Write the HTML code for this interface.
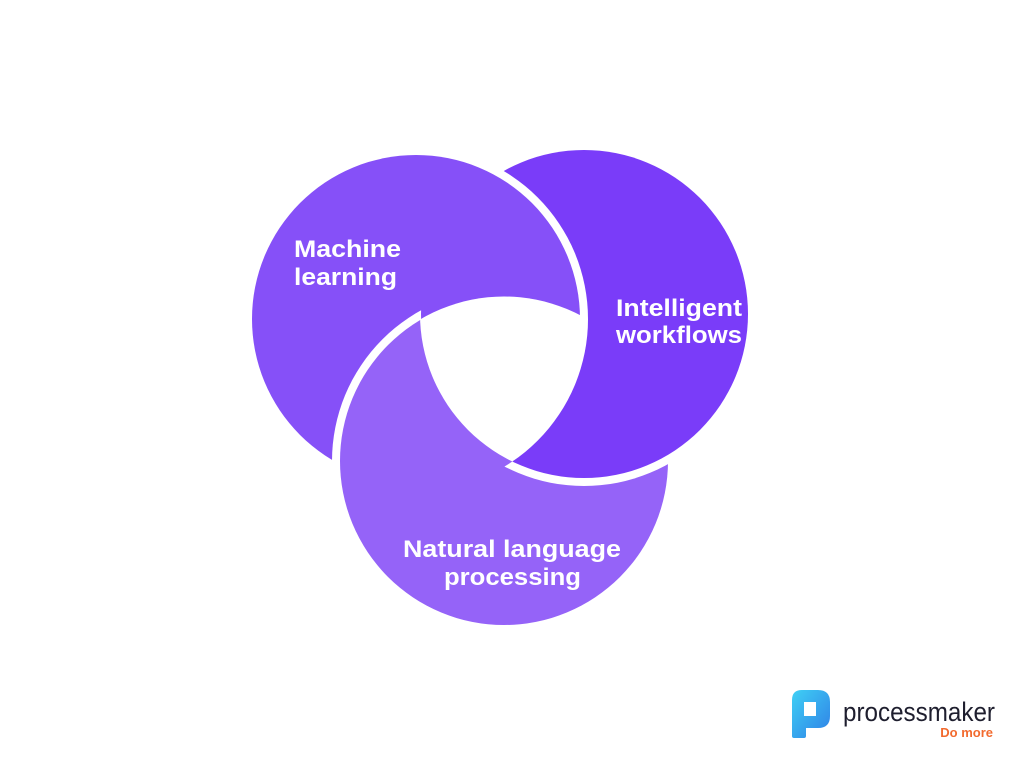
<!DOCTYPE html>
<html><head><meta charset="utf-8"><style>
html,body{margin:0;padding:0;background:#fff;}
body{width:1024px;height:768px;overflow:hidden;position:relative;font-family:"Liberation Sans",sans-serif;}
svg{position:absolute;left:0;top:0;}
</style></head><body>
<svg width="1024" height="768" viewBox="0 0 1024 768">
<defs>
<mask id="notML"><rect width="1024" height="768" fill="#fff"/><circle cx="416" cy="319" r="172" fill="#000"/></mask>
<mask id="notIW"><rect width="1024" height="768" fill="#fff"/><circle cx="584" cy="314" r="163" fill="#000"/></mask>
<clipPath id="cIW"><circle cx="584" cy="314" r="164"/></clipPath>
<clipPath id="cNLP"><circle cx="504" cy="461" r="164.5"/></clipPath>
<linearGradient id="lg" x1="0" y1="0" x2="1" y2="1"><stop offset="0" stop-color="#3fd0f5"/><stop offset="1" stop-color="#2f7fe6"/></linearGradient>
</defs>
<circle cx="416" cy="319" r="164" fill="#8650F8"/>
<circle cx="504" cy="461" r="172" fill="#fff" mask="url(#notIW)"/>
<circle cx="504" cy="461" r="164" fill="#9563F8"/>
<g mask="url(#notML)">
<circle cx="584" cy="314" r="172" fill="#fff"/>
<circle cx="584" cy="314" r="164" fill="#7A3CF9"/>
</g>
<g clip-path="url(#cIW)"><g clip-path="url(#cNLP)"><circle cx="416" cy="319" r="172" fill="#fff"/></g></g>
<g fill="#fff" font-family="Liberation Sans, sans-serif" font-weight="bold" font-size="24" lengthAdjust="spacingAndGlyphs">
<text x="294" y="257" textLength="107" lengthAdjust="spacingAndGlyphs">Machine</text>
<text x="294" y="285" textLength="103" lengthAdjust="spacingAndGlyphs">learning</text>
<text x="616" y="316" textLength="126" lengthAdjust="spacingAndGlyphs">Intelligent</text>
<text x="616" y="343" textLength="126" lengthAdjust="spacingAndGlyphs">workflows</text>
<text x="403" y="557" textLength="218" lengthAdjust="spacingAndGlyphs">Natural language</text>
<text x="444" y="585" textLength="137" lengthAdjust="spacingAndGlyphs">processing</text>
</g>
<path d="M792 700 q0-10 10-10 h16 q12 0 12 12 v14 q0 12-12 12 h-12 v8 q0 2-2 2 h-10 q-2 0-2-2 z M804 702 v14 h12 v-14 z" fill="url(#lg)" fill-rule="evenodd"/>
<text x="843" y="721" font-size="27" fill="#1e1e2e" font-family="Liberation Sans Narrow, Liberation Sans, sans-serif" textLength="152" lengthAdjust="spacingAndGlyphs">processmaker</text>
<text x="993" y="737" font-size="13" font-weight="bold" fill="#F26A2E" text-anchor="end">Do more</text>
</svg>
</body></html>
